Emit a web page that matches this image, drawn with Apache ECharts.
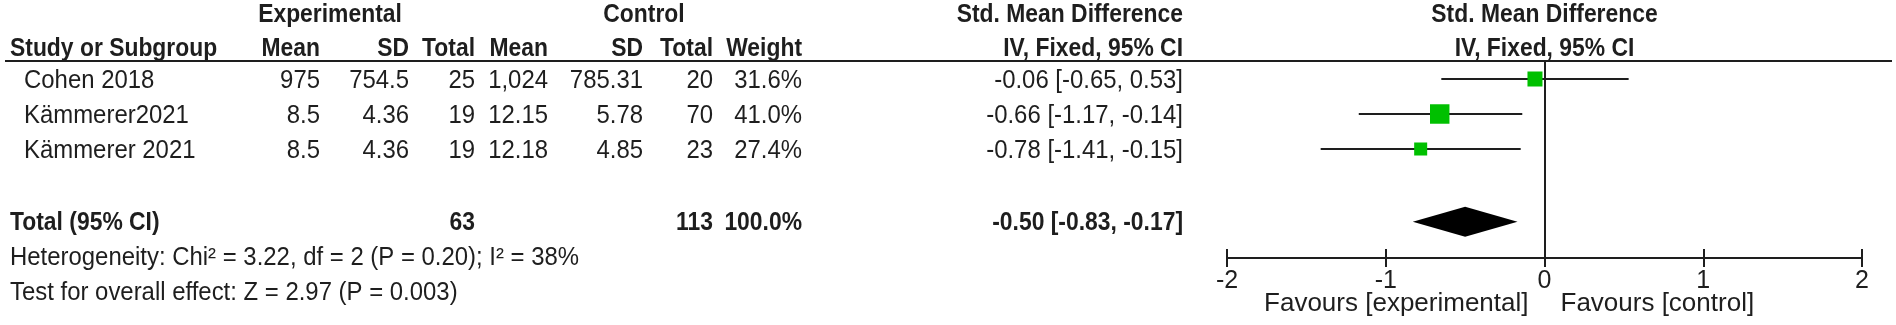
<!DOCTYPE html>
<html>
<head>
<meta charset="utf-8">
<script src="https://cdn.jsdelivr.net/npm/echarts@6/dist/echarts.min.js"></script>
<style>
  html, body { margin: 0; padding: 0; background: #fff; }
  #chart { width: 1896px; height: 325px; }
</style>
</head>
<body>
<div id="chart"></div>
<script>
// study data
const studies = ['Cohen 2018', 'Kämmerer2021', 'Kämmerer 2021']
const expMean = [975, 8.5, 8.5]
const expSD = [754.5, 4.36, 4.36]
const expTotal = [25, 19, 19]
const ctrlMean = [1024, 12.15, 12.18]
const ctrlSD = [785.31, 5.78, 4.85]
const ctrlTotal = [20, 70, 23]
const weights = [31.6, 41.0, 27.4]
const smd = [-0.06, -0.66, -0.78]
const ciLow = [-0.65, -1.17, -1.41]
const ciHigh = [0.53, -0.14, -0.15]

// pooled result: [estimate, lower, upper]
const pooledSmd = [-0.50, -0.83, -0.17]
const totalExp = 63
const totalCtrl = 113
const totalWeight = 100.0
const heterogeneityText = 'Heterogeneity: Chi² = 3.22, df = 2 (P = 0.20); I² = 38%'
const overallText = 'Test for overall effect: Z = 2.97 (P = 0.003)'

// plot axis
const xTicks = [-2, -1, 0, 1, 2]
const favoursLeft = 'Favours [experimental]'
const favoursRight = 'Favours [control]'

// layout (pixels / row units)
const W = 1896, H = 325
const ROW0 = 79, ROWH = 35
const col = {
  head: 10, study: 24, expMean: 320, expSD: 409, expN: 475,
  ctlMean: 548, ctlSD: 643, ctlN: 713, weight: 802, ci: 1183,
  expHead: 330, ctlHead: 644, plotHead: 1544.5
}
const plotLeft = 1227, plotRight = 1862, plotTop = 61, axisY = 258
const toRow = y => (y - ROW0) / ROWH

const FONT = "'Liberation Sans', Arial, sans-serif"
const INK = '#1e1e1e'

const num = v => v.toLocaleString('en-US', { maximumFractionDigits: 2 })
const f2 = v => v.toFixed(2)

// table cells
const cells = []
const cell = (x, row, text, align, bold) => cells.push({ x, row, text, align, bold })

const topRow = -1.84, headRow = -0.87
cell(col.expHead, topRow, 'Experimental', 'center', true)
cell(col.ctlHead, topRow, 'Control', 'center', true)
cell(col.ci, topRow, 'Std. Mean Difference', 'right', true)
cell(col.plotHead, topRow, 'Std. Mean Difference', 'center', true)

cell(col.head, headRow, 'Study or Subgroup', 'left', true)
cell(col.expMean, headRow, 'Mean', 'right', true)
cell(col.expSD, headRow, 'SD', 'right', true)
cell(col.expN, headRow, 'Total', 'right', true)
cell(col.ctlMean, headRow, 'Mean', 'right', true)
cell(col.ctlSD, headRow, 'SD', 'right', true)
cell(col.ctlN, headRow, 'Total', 'right', true)
cell(col.weight, headRow, 'Weight', 'right', true)
cell(col.ci, headRow, 'IV, Fixed, 95% CI', 'right', true)
cell(col.plotHead, headRow, 'IV, Fixed, 95% CI', 'center', true)

studies.forEach((s, i) => {
  const r = i + 0.04
  cell(col.study, r, s, 'left', false)
  cell(col.expMean, r, num(expMean[i]), 'right', false)
  cell(col.expSD, r, num(expSD[i]), 'right', false)
  cell(col.expN, r, String(expTotal[i]), 'right', false)
  cell(col.ctlMean, r, num(ctrlMean[i]), 'right', false)
  cell(col.ctlSD, r, num(ctrlSD[i]), 'right', false)
  cell(col.ctlN, r, String(ctrlTotal[i]), 'right', false)
  cell(col.weight, r, weights[i].toFixed(1) + '%', 'right', false)
  cell(col.ci, r, `${f2(smd[i])} [${f2(ciLow[i])}, ${f2(ciHigh[i])}]`, 'right', false)
})

const totalRow = 4.1
cell(col.head, totalRow, 'Total (95% CI)', 'left', true)
cell(col.expN, totalRow, String(totalExp), 'right', true)
cell(col.ctlN, totalRow, String(totalCtrl), 'right', true)
cell(col.weight, totalRow, totalWeight.toFixed(1) + '%', 'right', true)
cell(col.ci, totalRow, `${f2(pooledSmd[0])} [${f2(pooledSmd[1])}, ${f2(pooledSmd[2])}]`, 'right', true)
cell(col.head, 5.1, heterogeneityText, 'left', false)
cell(col.head, 6.11, overallText, 'left', false)

const chart = echarts.init(document.getElementById('chart'))

const axisName = (text, align, pad) => ({
  name: text, nameLocation: 'middle', nameGap: 46, nameMoveOverlap: false,
  nameTextStyle: {
    fontFamily: FONT, fontSize: 26, color: INK,
    align: align, verticalAlign: 'middle', padding: pad
  }
})

const option = {
  animation: false,
  backgroundColor: '#fff',
  grid: [
    { left: 0, right: 0, top: 0, bottom: 0 },
    { left: plotLeft, right: W - plotRight, top: plotTop, bottom: H - axisY }
  ],
  xAxis: [
    { gridIndex: 0, type: 'value', min: 0, max: W, show: false },
    Object.assign({
      gridIndex: 1, type: 'value', position: 'bottom',
      min: xTicks[0], max: xTicks[xTicks.length - 1], interval: 1,
      splitLine: { show: false },
      axisLine: { onZero: false, lineStyle: { color: INK, width: 2 } },
      axisTick: { length: 9, lineStyle: { color: INK, width: 2 } },
      axisLabel: { fontFamily: FONT, fontSize: 25, color: INK, margin: 11 }
    }, axisName(favoursLeft, 'right', [0, 16, 0, 0])),
    Object.assign({
      gridIndex: 1, type: 'value', position: 'bottom',
      min: xTicks[0], max: xTicks[xTicks.length - 1], interval: 1,
      splitLine: { show: false },
      axisLine: { show: false, onZero: false },
      axisTick: { inside: true, length: 9, lineStyle: { color: INK, width: 2 } },
      axisLabel: { show: false }
    }, axisName(favoursRight, 'left', [0, 0, 0, 16]))
  ],
  yAxis: [
    { gridIndex: 0, type: 'value', inverse: true, min: toRow(0), max: toRow(H), show: false },
    {
      gridIndex: 1, type: 'value', inverse: true,
      min: toRow(plotTop), max: toRow(axisY),
      axisLine: { show: true, onZero: true, onZeroAxisIndex: 1, lineStyle: { color: INK, width: 2 } },
      axisTick: { show: false },
      axisLabel: { show: false },
      splitLine: { show: false }
    }
  ],
  series: [
    {
      // table text
      type: 'custom',
      xAxisIndex: 0,
      yAxisIndex: 0,
      silent: true,
      data: cells.map(c => [c.x, c.row]),
      renderItem: (params, api) => {
        const c = cells[params.dataIndex]
        const p = api.coord([c.x, c.row])
        return {
          type: 'text',
          x: p[0],
          y: p[1],
          scaleX: c.bold ? 0.88 : 0.92,
          style: {
            text: c.text,
            fill: INK,
            font: `${c.bold ? 'bold ' : ''}26px ${FONT}`,
            align: c.align,
            verticalAlign: 'middle'
          }
        }
      },
      markLine: {
        silent: true,
        symbol: ['none', 'none'],
        label: { show: false },
        lineStyle: { color: INK, width: 2, type: 'solid' },
        data: [[{ coord: [5, toRow(plotTop)] }, { coord: [W - 4, toRow(plotTop)] }]]
      }
    },
    {
      // confidence intervals
      type: 'custom',
      xAxisIndex: 1,
      yAxisIndex: 1,
      silent: true,
      data: studies.map((s, i) => [ciLow[i], ciHigh[i], i]),
      renderItem: (params, api) => {
        const a = api.coord([api.value(0), api.value(2)])
        const b = api.coord([api.value(1), api.value(2)])
        return {
          type: 'line',
          shape: { x1: a[0], y1: a[1], x2: b[0], y2: b[1] },
          style: { stroke: INK, lineWidth: 2 }
        }
      },
      z: 2
    },
    {
      // study weights as squares
      type: 'scatter',
      xAxisIndex: 1,
      yAxisIndex: 1,
      silent: true,
      symbol: 'rect',
      symbolSize: v => v[2] * 0.475,
      itemStyle: { color: '#00c000', opacity: 1 },
      data: studies.map((s, i) => [smd[i], i, weights[i]]),
      z: 3
    },
    {
      // pooled diamond
      type: 'custom',
      xAxisIndex: 1,
      yAxisIndex: 1,
      silent: true,
      data: [[pooledSmd[0], pooledSmd[1], pooledSmd[2], 4.08]],
      renderItem: (params, api) => {
        const r = api.value(3)
        const half = 0.43
        const pts = [
          api.coord([api.value(1), r]),
          api.coord([api.value(0), r - half]),
          api.coord([api.value(2), r]),
          api.coord([api.value(0), r + half])
        ]
        return {
          type: 'polygon',
          shape: { points: pts },
          style: { fill: '#000' }
        }
      },
      z: 3
    }
  ]
}

chart.setOption(option)
</script>
</body>
</html>
